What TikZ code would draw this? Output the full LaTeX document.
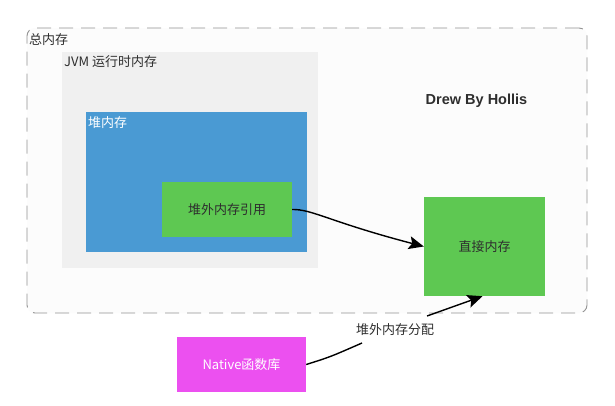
\documentclass[tikz,border=0pt]{standalone}
\usepackage{fontspec}
\setmainfont{Noto Sans CJK SC}
\newfontfamily\latinbold{Liberation Sans}[BoldFont={Liberation Sans Bold}]
\usetikzlibrary{arrows.meta}
\definecolor{graybox}{HTML}{F0F0F0}
\definecolor{bluebox}{HTML}{4A9AD3}
\definecolor{greenbox}{HTML}{5EC852}
\definecolor{magbox}{HTML}{EC50F0}
\definecolor{dashcol}{HTML}{939393}
\definecolor{txtcol}{HTML}{2E2E2E}
\begin{document}
\begin{tikzpicture}[x=1pt,y=-1pt,
  font=\fontsize{13}{15}\selectfont,
  box/.style={rectangle, inner sep=0pt, draw=none},
  txt/.style={inner sep=0pt, text=txtcol},
  wtxt/.style={inner sep=0pt, text=white},
  arr/.style={line width=1.4pt, -{Stealth[length=15pt,width=13pt,inset=3pt]}},
  conn/.style={line width=1.4pt}]
\useasboundingbox (0,0) rectangle (615,405);
\fill[white] (0,0) rectangle (615,405);
% outer dashed box
\node[box, minimum width=560pt, minimum height=285pt, draw=dashcol,
      dash pattern=on 14pt off 8pt, line width=0.9pt, rounded corners=8pt,
      fill=black!1] (total) at (307,170.5) {};
\node[txt, anchor=west] (totallbl) at (29,40) {总内存};
% JVM box
\node[box, minimum width=256pt, minimum height=216pt, fill=graybox] (jvm) at (190,160) {};
\node[txt, anchor=west] (jvmlbl) at (64,62) {JVM 运行时内存};
% heap
\node[box, minimum width=221pt, minimum height=140pt, fill=bluebox] (heap) at (196.5,182) {};
\node[wtxt, anchor=west] (heaplbl) at (88,123) {堆内存};
% off-heap reference
\node[box, minimum width=130pt, minimum height=55pt, fill=greenbox, text=txtcol] (ref) at (227,209.5) {堆外内存引用};
% direct memory
\node[box, minimum width=121pt, minimum height=99pt, fill=greenbox, text=txtcol] (direct) at (484.5,246.5) {直接内存};
% native
\node[box, minimum width=129pt, minimum height=55pt, fill=magbox, text=white] (native) at (241.5,364.5) {Native函数库};
% credit
\node[txt, font=\latinbold\bfseries\fontsize{14.5}{16}\selectfont] (credit) at (476.5,101) {Drew By Hollis};
% allocation label
\node[txt] (alloc) at (395,330) {堆外内存分配};
\coordinate (a1) at (362,343);
\coordinate (a2) at (427,316);
% connectors
\draw[arr] (ref.east) .. controls (312,209) and (330,222) .. (direct.west);
\draw[conn] (native.east) .. controls (330,357) .. (a1);
\draw[arr] (a2) -- ([xshift=-2pt]direct.south);
\end{tikzpicture}
\end{document}
